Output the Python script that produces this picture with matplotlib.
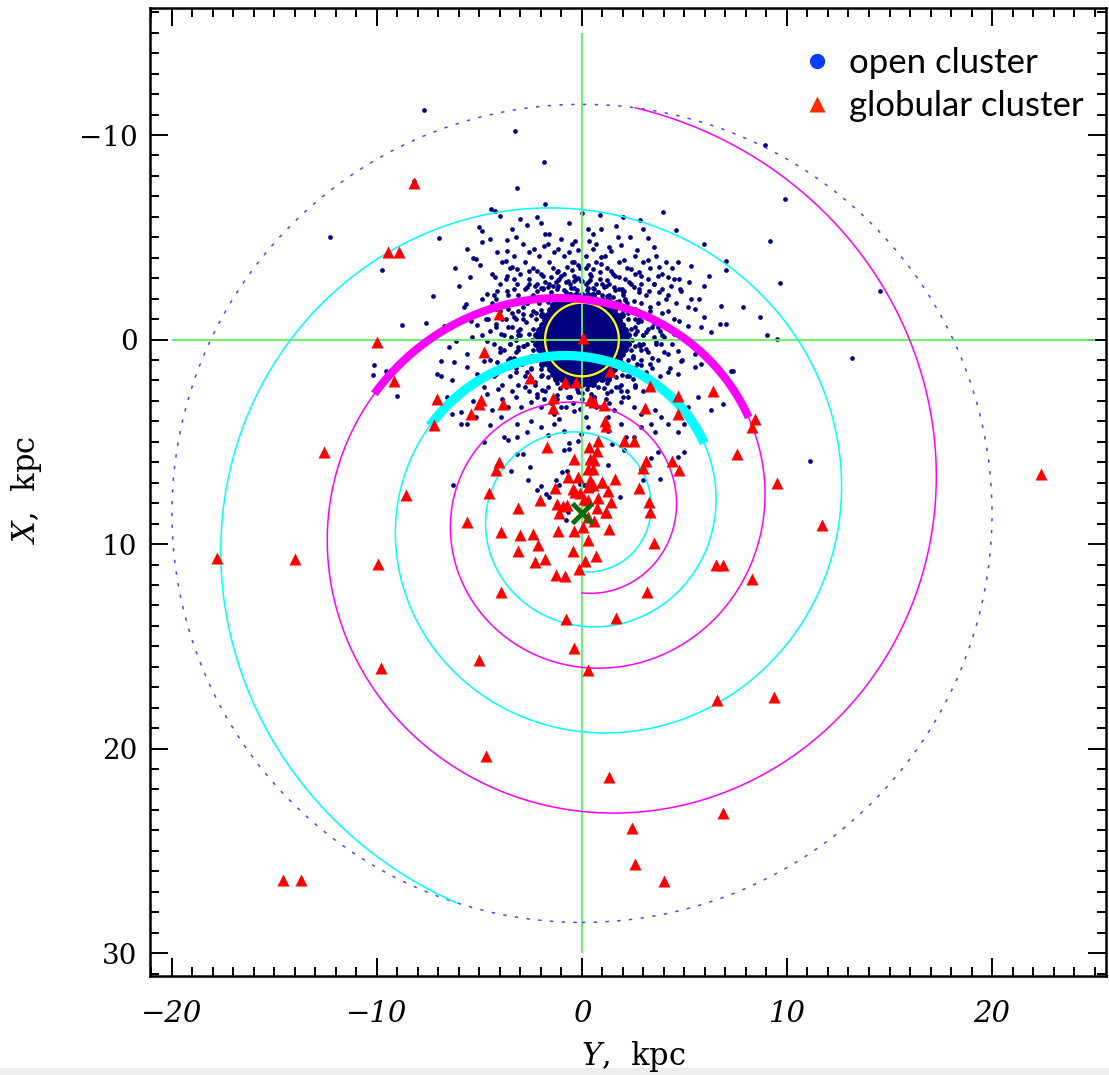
import numpy as np
import matplotlib
matplotlib.use("Agg")
import matplotlib.pyplot as plt
from matplotlib.lines import Line2D
from matplotlib.patches import Rectangle
from matplotlib.ticker import MultipleLocator

plt.rcParams["mathtext.fontset"] = "dejavuserif"

# ---------------- data ----------------
R_SUN = 8.5            # Galactic centre distance (kpc)
R_OUTER = 20.0         # dotted boundary circle radius around the GC
R_LOCAL = 1.8          # yellow circle radius around the Sun
PITCH_DEG = 6.0        # spiral pitch angle
arm_colors = ["cyan", "magenta"]
arm_r_start = [2.85, 3.89]      # spiral radius at start (direction away from Sun)
arm_thick_lw = [6.7, 5.8]
THICK_HALF_ANGLE_DEG = 60.0

x_ticks = [-20, -10, 0, 10, 20]
x_tick_labels = ["\u221220", "\u221210", "0", "10", "20"]
y_ticks = [-10, 0, 10, 20, 30]
y_tick_labels = ["\u221210", "0", "10", "20", "30"]

# dense core of open clusters (rows of X, list of Y in each row)
core_row_x = [-2.16, -1.92, -1.68, -1.44, -1.2, -0.96, -0.72, -0.48, -0.24, 0.0,
              0.24, 0.48, 0.72, 0.96, 1.2, 1.44, 1.68, 1.92, 2.16]
core_row_y = [
    [-0.56, -0.28, 0.0, 0.28, 0.56],
    [-1.26, -0.98, -0.7, -0.42, -0.14, 0.14, 0.42, 0.7, 0.98, 1.26],
    [-1.4, -1.12, -0.84, -0.56, -0.28, 0.0, 0.28, 0.56, 0.84, 1.12, 1.4],
    [-1.54, -1.26, -0.98, -0.7, -0.42, -0.14, 0.14, 0.42, 0.7, 0.98, 1.26, 1.54],
    [-1.96, -1.68, -1.4, -1.12, -0.84, -0.56, -0.28, 0.0, 0.28, 0.56, 0.84, 1.12, 1.4, 1.68, 1.96],
    [-1.82, -1.54, -1.26, -0.98, -0.7, -0.42, -0.14, 0.14, 0.42, 0.7, 0.98, 1.26, 1.54, 1.82],
    [-1.96, -1.68, -1.4, -1.12, -0.84, -0.56, -0.28, 0.0, 0.28, 0.56, 0.84, 1.12, 1.4, 1.68, 1.96],
    [-2.1, -1.82, -1.54, -1.26, -0.98, -0.7, -0.42, -0.14, 0.14, 0.42, 0.7, 0.98, 1.26, 1.54, 1.82, 2.1],
    [-2.24, -1.96, -1.68, -1.4, -1.12, -0.84, -0.56, -0.28, 0.0, 0.28, 0.56, 0.84, 1.12, 1.4, 1.68, 1.96, 2.24],
    [-2.1, -1.82, -1.54, -1.26, -0.98, -0.7, -0.42, -0.14, 0.14, 0.42, 0.7, 0.98, 1.26, 1.54, 1.82, 2.1],
    [-2.24, -1.96, -1.68, -1.4, -1.12, -0.84, -0.56, -0.28, 0.0, 0.28, 0.56, 0.84, 1.12, 1.4, 1.68, 1.96, 2.24],
    [-2.1, -1.82, -1.54, -1.26, -0.98, -0.7, -0.42, -0.14, 0.14, 0.42, 0.7, 0.98, 1.26, 1.54, 1.82, 2.1],
    [-1.96, -1.68, -1.4, -1.12, -0.84, -0.56, -0.28, 0.0, 0.28, 0.56, 0.84, 1.12, 1.4, 1.68, 1.96],
    [-1.82, -1.54, -1.26, -0.98, -0.7, -0.42, -0.14, 0.14, 0.42, 0.7, 0.98, 1.26, 1.54, 1.82],
    [-1.96, -1.68, -1.4, -1.12, -0.84, -0.56, -0.28, 0.0, 0.28, 0.56, 0.84, 1.12, 1.4, 1.68, 1.96],
    [-1.54, -1.26, -0.98, -0.7, -0.42, -0.14, 0.14, 0.42, 0.7, 0.98, 1.26, 1.54],
    [-1.4, -1.12, -0.84, -0.56, -0.28, 0.0, 0.28, 0.56, 0.84, 1.12, 1.4],
    [-1.26, -0.98, -0.7, -0.42, -0.14, 0.14, 0.42, 0.7, 0.98, 1.26],
    [-0.56, -0.28, 0.0, 0.28, 0.56],
]

# open clusters (Y, X) outside the dense core
oc_far = [
    (-7.71, -11.23), (-3.26, -10.21), (-1.84, -8.70), (-8.19, -7.77), (-12.27, -4.99),
    (-9.74, -3.41), (-10.15, 1.24), (-10.18, 1.73), (-9.58, 1.55), (-9.04, 2.77),
    (8.92, -9.53), (9.91, -6.89), (9.16, -4.82), (9.66, -2.75), (14.54, -2.38),
    (9.51, -0.03), (9.04, -0.24), (13.16, 0.9), (11.14, 5.96), (3.39, 5.8),
]
oc_upper = [
    (-3.15, -7.41), (-1.8, -6.63), (-4.45, -6.39), (-4.24, -6.27), (-4.01, -6.06), (3.94, -6.22), (2.82, -5.82),
    (-0.62, -5.7), (1.66, -5.57), (0.93, -5.41), (0.55, -5.16), (0.27, -5.38), (-1.6, -5.16), (-1.81, -5.16),
    (-2.69, -5.62), (-3.42, -5.38), (-5.02, -5.49), (-4.89, -5.3), (-6.98, -4.95), (4.59, -5.36), (3.24, -4.95),
    (2.36, -5.0), (1.77, -5.0),
    (5.93, -4.67), (0.68, -4.67), (-0.35, -4.84), (-0.48, -4.67), (-0.62, -4.27), (-1.19, -4.43), (-1.36, -4.27),
    (-1.84, -4.59), (-1.68, -4.67), (-2.33, -4.43), (-2.58, -4.27), (-2.9, -4.67), (-3.64, -4.87), (-3.64, -4.35),
    (-4.13, -4.27), (-4.86, -4.76), (-5.59, -4.43), (0.36, -4.84), (0.52, -4.43), (0.93, -4.02), (1.42, -4.32),
    (2.07, -3.89), (3.21, -3.89), (4.67, -3.78), (7.03, -3.86), (7.03, -3.4),
    (-0.37, -3.78), (-0.21, -3.62), (-0.73, -3.53), (-1.19, -3.37), (-1.52, -3.05), (-2.17, -3.37), (-2.58, -3.37),
    (-3.15, -3.45), (-3.39, -3.57), (-3.72, -3.86), (-5.18, -3.94), (-4.97, -3.66), (-5.48, -3.05), (-4.24, -3.05),
    (-3.64, -3.13), (-3.31, -2.96), (0.27, -3.62), (0.52, -3.45), (0.93, -3.7), (1.42, -3.37), (1.83, -3.05),
    (2.39, -3.45), (2.88, -3.13), (3.78, -3.53), (3.7, -3.13), (4.2, -3.05), (4.75, -2.96), (5.24, -2.8),
    (5.97, -2.64), (5.73, -1.99),
    (-0.7, -2.88), (-0.37, -2.88), (-0.05, -2.88), (0.27, -2.8), (0.68, -2.72), (1.06, -2.56), (1.55, -2.56),
    (2.07, -2.39), (2.56, -2.56), (2.88, -2.72), (3.29, -2.39), (3.78, -2.31), (4.35, -2.64), (4.84, -2.39),
    (5.33, -1.99), (-1.27, -2.8), (-1.68, -2.56), (-2.17, -2.39), (-2.66, -2.56), (-3.15, -2.72), (-3.64, -2.39),
    (-4.13, -2.39), (-4.61, -2.23), (-4.86, -1.99), (-4.21, -1.99), (-5.67, -1.74), (-7.27, -2.12), (6.79, -1.66),
    (7.85, -1.61),
    (-5.75, -1.58), (-5.43, -0.93), (-5.1, -0.73), (-4.69, -1.01), (-4.21, -0.77), (-6.73, -0.68), (-7.63, -0.81),
    (-8.77, -0.73), (5.16, -1.58), (5.49, -1.5), (5.97, -1.09), (6.71, -0.77), (7.03, -0.77), (8.67, -1.09),
    (5.16, -0.68), (4.75, -0.93),
    (-6.16, 0.05), (-5.35, -0.11), (-4.61, 0.05), (-3.96, -0.28), (-3.47, -0.11), (4.02, -0.11), (4.51, -0.28),
    (3.53, -0.11), (5.08, -0.03), (5.81, -0.6), (6.3, -0.36), (3.7, -0.6),
    (-6.49, 0.37), (-5.59, 0.7), (-4.78, 1.03), (-4.13, 1.11), (-6.24, 1.11), (-6.89, 1.03), (4.67, 0.54),
    (5.49, 0.7), (4.84, 1.03), (5.81, 1.22), (7.28, 1.56), (3.86, 0.21), (4.2, 0.7),
    (-7.06, 1.68), (-5.59, 1.35), (-5.1, 1.68), (-4.21, 1.68), (4.2, 1.6), (4.67, 1.68), (5.49, 1.35),
    (-3.0, -5.9), (-2.2, -6.0), (0.9, -6.1), (1.3, -4.5), (-1.0, -4.9), (2.7, -4.4), (3.5, -4.5), (-3.2, -5.0),
    (-4.5, -4.9), (-2.0, -5.7), (0.0, -6.2), (2.0, -6.0), (-0.2, -4.4), (1.9, -4.6), (3.0, -5.4), (-5.3, -4.0),
    (-6.2, -3.5), (5.3, -3.6), (6.2, -3.1), (-6.0, -2.6),
]
oc_middle = [
    (-6.89, 1.76), (-6.32, 2.0), (-5.75, 2.49), (-6.57, 2.82), (-6.32, 3.63), (-5.91, 3.55), (-5.59, 4.12),
    (-5.92, 4.12), (-5.18, 3.8), (-4.61, 2.66), (-4.12, 2.41), (-3.88, 2.9), (-4.37, 3.47), (-3.96, 3.8),
    (-3.63, 3.31), (-3.23, 2.82), (-2.98, 3.31), (-2.49, 3.06), (-2.17, 2.66), (-1.84, 2.9), (-2.0, 3.31),
    (-3.15, 4.12), (-2.49, 3.96), (-1.35, 3.63), (-1.03, 3.31), (-0.7, 2.82), (-0.21, 2.57), (0.44, 2.66),
    (0.6, 2.98), (0.93, 3.31), (1.25, 3.8), (1.58, 3.47), (1.9, 3.06), (2.23, 2.82), (2.56, 3.31), (2.88, 3.63),
    (3.54, 3.47), (3.86, 3.8), (3.37, 4.12), (2.88, 4.28), (4.19, 4.12), (4.68, 3.63), (5.16, 3.31), (5.65, 2.82),
    (6.3, 3.47), (6.87, 3.14), (7.36, 1.52), (1.9, 4.12), (1.25, 4.45), (0.28, 4.28), (-0.05, 4.61),
    (-0.86, 4.45), (-1.35, 4.12), (-1.68, 4.69), (-2.0, 4.28), (-3.8, 4.77), (-3.15, 4.77), (2.15, 4.77),
    (2.56, 4.77), (3.54, 4.53), (5.0, 4.12), (4.68, 4.53),
    (-4.8, 2.3), (-5.3, 3.0), (-4.5, 4.2), (-2.7, 4.5), (-1.1, 3.9), (-0.4, 3.5), (0.2, 3.8),
]
oc_lower = [
    (-4.77, 5.01), (-3.63, 4.9), (-3.18, 5.62), (-2.9, 5.62), (-3.47, 6.43), (-2.54, 6.24), (-2.62, 6.86),
    (-6.27, 7.1), (-2.17, 7.34), (-2.0, 7.18), (-1.76, 7.54), (-1.6, 7.7), (-1.27, 6.89), (-1.11, 7.13),
    (-0.95, 6.48), (-0.73, 6.43), (-0.7, 6.72), (-0.08, 7.05), (0.12, 7.13), (0.52, 7.3), (1.26, 6.15),
    (1.86, 7.7), (2.97, 6.86), (3.81, 6.81), (2.07, 5.39), (2.59, 5.06), (1.47, 5.1), (-0.65, 5.06),
    (-0.9, 5.39), (-0.62, 5.34), (-0.21, 4.98), (-0.78, 8.81), (-0.7, 8.44), (4.68, 5.75), (5.0, 5.5),
    (2.88, 6.32), (3.7, 5.5),
]
oc_ring = [
    (-3.0, -0.2), (-3.1, 0.5), (-2.9, 1.1), (-3.2, -1.0), (-2.9, -1.6), (-2.5, -2.1), (-2.0, -2.5),
    (-1.4, -2.6), (-0.8, -2.8), (-0.2, -3.0), (0.4, -2.9), (1.0, -2.7), (1.6, -2.4), (2.1, -2.0), (2.6, -1.5),
    (2.9, -0.9), (3.0, -0.2), (2.9, 0.5), (2.7, 1.2), (2.3, 1.8), (1.8, 2.3), (1.2, 2.6), (0.6, 2.8),
    (0.0, 2.9), (-0.6, 2.8), (-1.2, 2.7), (-1.8, 2.5), (-2.3, 2.1), (-2.7, 1.6),
    (-3.5, 0.2), (-3.6, -0.6), (-3.4, -1.3), (-3.1, -2.2), (-2.6, -2.7), (-1.9, -3.1), (-1.2, -3.3),
    (-0.5, -3.4), (0.2, -3.5), (0.9, -3.3), (1.6, -3.1), (2.3, -2.8), (2.8, -2.3), (3.3, -1.6), (3.5, -0.8),
    (3.6, 0.1), (3.4, 0.9), (3.1, 1.6), (2.6, 2.3), (2.0, 2.8), (1.3, 3.1), (0.7, 3.3), (-0.1, 3.4),
    (-0.8, 3.3), (-1.5, 3.1), (-2.2, 2.8), (-2.8, 2.3), (-3.2, 1.6), (-3.5, 0.9),
    (-2.9, 0.3), (-3.2, 0.0), (-3.0, -0.5), (-2.5, -1.2), (-3.3, -1.1),
    (-3.6, -1.5), (-2.7, -1.8), (-2.1, -1.8), (-1.5, -2.3), (-0.9, -2.4), (-0.4, -2.5), (0.3, -2.5), (0.8, -2.3),
    (1.3, -2.2), (1.8, -1.9), (2.3, -1.5), (2.6, -1.0), (2.7, -0.4), (2.6, 0.3), (2.5, 0.9), (2.1, 1.4),
    (3.0, 0.2), (3.2, -0.5), (3.1, -1.2), (2.0, -2.3), (-1.0, -3.1), (-1.8, -2.8), (-2.3, -2.6), (-3.9, -1.0),
    (-3.8, 0.5), (-3.3, 0.9), (-2.5, 1.9), (1.4, 2.5),
    (3.3, 1.2), (3.8, -0.4), (3.9, -1.3), (4.1, -2.0), (3.5, -2.7), (2.8, -3.3), (-4.2, -1.5), (-4.5, -0.4),
    (-4.0, 0.4), (-3.7, 1.2),
]
oc_edge = [
    (0.0, 2.6), (0.59, 2.79), (1.06, 2.38), (1.68, 2.31), (1.93, 1.74), (2.47, 1.43), (2.47, 0.8),
    (2.83, 0.3), (2.59, -0.27), (2.71, -0.88), (2.25, -1.3), (2.12, -1.91), (1.53, -2.1), (1.16, -2.6),
    (0.54, -2.54), (0.0, -2.85), (-0.54, -2.54), (-1.16, -2.6), (-1.53, -2.1), (-2.12, -1.91), (-2.25, -1.3),
    (-2.71, -0.88), (-2.59, -0.27), (-2.83, 0.3), (-2.47, 0.8), (-2.47, 1.43), (-1.93, 1.74), (-1.68, 2.31),
    (-1.06, 2.38), (-0.59, 2.79),
    (0.26, 2.44), (0.76, 2.33), (1.23, 2.12), (1.64, 1.82), (1.98, 1.44), (2.24, 1.0), (2.4, 0.51),
    (2.45, 0.0), (2.4, -0.51), (2.24, -1.0), (1.98, -1.44), (1.64, -1.82), (1.23, -2.12), (0.76, -2.33),
    (0.26, -2.44), (-0.26, -2.44), (-0.76, -2.33), (-1.23, -2.12), (-1.64, -1.82), (-1.98, -1.44),
    (-2.24, -1.0), (-2.4, -0.51), (-2.45, 0.0), (-2.4, 0.51), (-2.24, 1.0), (-1.98, 1.44), (-1.64, 1.82),
    (-1.23, 2.12), (-0.76, 2.33), (-0.26, 2.44),
    (0.38, 3.13), (1.18, 2.92), (1.9, 2.52), (2.48, 1.94), (2.9, 1.23), (3.12, 0.44), (3.13, -0.38),
    (2.92, -1.18), (2.52, -1.9), (1.94, -2.48), (1.23, -2.9), (0.44, -3.12), (-0.38, -3.13), (-1.18, -2.92),
    (-1.9, -2.52), (-2.48, -1.94), (-2.9, -1.23), (-3.12, -0.44), (-3.13, 0.38), (-2.92, 1.18), (-2.52, 1.9),
    (-1.94, 2.48), (-1.23, 2.9), (-0.44, 3.12),
]
oc_dense = [
    (-3.3, -4.1), (-2.1, -4.1), (-0.9, -4.1), (0.2, -4.1), (1.1, -4.1), (2.6, -4.1), (3.6, -4.1),
    (-3.9, -3.8), (-2.8, -3.8), (-1.6, -3.8), (-0.5, -3.8), (0.7, -3.8), (1.8, -3.8), (3.0, -3.8), (4.1, -3.8),
    (-3.5, -3.5), (-2.4, -3.5), (-1.4, -3.5), (-0.1, -3.5), (1.2, -3.5), (2.2, -3.5), (3.3, -3.5), (4.4, -3.5),
    (-4.4, -3.2), (-3.0, -3.2), (-2.0, -3.2), (-0.9, -3.2), (0.4, -3.2), (1.5, -3.2), (2.6, -3.2), (3.9, -3.2),
    (-3.7, -2.95), (-2.6, -2.95), (-1.1, -2.95), (-0.3, -2.95), (0.9, -2.95), (2.1, -2.95), (3.2, -2.95),
    (4.5, -2.95), (-4.0, -2.7), (-2.2, -2.7), (-1.6, -2.7), (-0.6, -2.7), (0.2, -2.7), (1.3, -2.7), (2.4, -2.7),
    (3.5, -2.7), (-3.3, -2.45), (-2.8, -2.45), (-1.9, -2.45), (-1.2, -2.45), (0.6, -2.45), (1.8, -2.45),
    (2.8, -2.45), (3.9, -2.45), (4.8, -2.45), (-4.3, -2.2), (-3.6, -2.2), (-2.4, -2.2), (-1.5, -2.2),
    (1.0, -2.2), (2.0, -2.2), (3.1, -2.2), (4.2, -2.2),
    (-4.4, -1.8), (-3.5, -1.8), (-2.7, -1.8), (2.2, -1.8), (2.9, -1.8), (3.7, -1.8), (4.6, -1.8),
    (-4.0, -1.4), (-3.1, -1.4), (-2.4, -1.4), (2.5, -1.4), (3.3, -1.4), (4.2, -1.4),
    (-4.6, -1.0), (-3.7, -1.0), (-2.9, -1.0), (2.8, -1.0), (3.6, -1.0), (4.5, -1.0),
    (-4.2, -0.6), (-3.4, -0.6), (2.6, -0.6), (3.4, -0.6), (4.1, -0.6),
    (-4.9, -0.2), (-3.8, -0.2), (-3.1, -0.2), (3.0, -0.2), (3.9, -0.2), (4.7, -0.2),
    (-4.3, 0.2), (-3.5, 0.2), (-2.7, 0.2), (2.8, 0.2), (3.6, 0.2), (4.4, 0.2),
    (-4.0, 0.6), (-3.2, 0.6), (3.2, 0.6), (4.0, 0.6),
    (-4.5, 1.0), (-3.6, 1.0), (-2.9, 1.0), (2.9, 1.0), (3.7, 1.0), (4.9, 1.0),
    (-3.9, 1.4), (-3.2, 1.4), (-2.5, 1.4), (2.6, 1.4), (3.4, 1.4), (4.3, 1.4),
    (-4.3, 1.8), (-3.5, 1.8), (-2.8, 1.8), (-2.0, 1.8), (2.2, 1.8), (3.0, 1.8),
    (3.8, 1.8), (-3.9, 2.2), (-3.1, 2.2), (-2.3, 2.2), (1.9, 2.2), (2.6, 2.2), (3.4, 2.2),
    (-3.4, 2.5), (-2.6, 2.5), (2.2, 2.5), (3.0, 2.5),
]

# globular clusters (Y, X)
gc = [
    (-8.20, -7.64), (-9.45, -4.27), (-8.93, -4.27), (-9.99, 0.10), (-4.05, -1.24), (0.06, -0.08),
    (-4.78, 0.62), (-9.17, 2.04), (-7.05, 2.90), (-4.94, 2.98), (-5.02, 3.14), (-5.43, 3.63), (-3.86, 3.16),
    (-2.54, 1.89), (-0.82, 2.10), (-0.29, 2.10), (-1.39, 2.86), (-1.39, 3.34), (-7.22, 4.16), (-12.6, 5.51),
    (-1.72, 5.27), (-4.07, 6.00), (-4.17, 6.40), (-0.40, 5.85), (-0.70, 6.70), (-0.21, 6.70), (-8.57, 7.62),
    (-4.53, 7.52), (-2.07, 7.83), (-1.32, 7.24), (-3.10, 8.25), (-1.20, 8.05), (-0.94, 8.13), (-1.12, 8.49),
    (-0.73, 8.11), (-5.63, 8.93), (-3.96, 9.42), (-3.02, 9.55), (-2.41, 9.52), (-1.16, 9.36), (-0.38, 9.36),
    (-2.15, 10.07), (-3.13, 10.33), (-0.45, 10.36), (-2.27, 10.90), (-1.81, 10.74), (0.13, 10.82),
    (-0.16, 11.20), (-1.27, 11.51), (-0.83, 11.58), (-3.94, 12.35), (-9.94, 10.96), (-14.01, 10.72),
    (-17.81, 10.67), (-0.77, 13.65), (-0.41, 15.09), (-5.00, 15.66), (-9.82, 16.05), (0.28, 16.18),
    (-4.69, 20.38), (-14.58, 26.44), (-13.69, 26.44), (6.60, 17.64), (9.37, 17.48), (1.31, 21.39),
    (2.43, 23.87), (6.90, 23.15), (2.57, 25.63), (4.00, 26.48), (6.38, 2.51), (8.45, 3.88), (8.30, 4.29),
    (4.70, 2.74), (4.70, 3.63), (3.09, 3.34), (1.12, 3.96), (1.15, 4.23), (2.05, 4.97), (2.56, 4.95),
    (7.55, 5.59), (9.49, 7.02), (4.38, 5.95), (4.72, 6.37), (3.10, 5.95), (2.97, 6.27), (1.60, 6.80),
    (0.97, 6.97), (2.80, 7.25), (3.29, 7.93), (3.30, 8.41), (1.40, 7.93), (1.19, 8.42), (1.32, 9.25),
    (3.51, 9.94), (0.31, 9.82), (0.68, 10.57), (11.73, 9.09), (6.55, 11.03), (6.87, 11.01), (8.28, 11.70),
    (3.15, 12.35), (1.66, 13.60), (22.40, 6.56), (0.39, 2.98), (0.58, 3.05), (1.09, 3.18), (0.77, 4.97),
    (0.72, 5.43), (0.36, 5.26), (0.41, 5.83), (0.57, 5.91), (0.28, 6.32), (0.52, 6.32), (0.41, 6.89),
    (0.52, 7.09), (0.28, 7.22), (0.96, 6.97), (1.28, 7.42), (-0.45, 7.30), (-0.34, 7.46), (-0.10, 7.51),
    (0.11, 7.79), (0.28, 7.87), (0.77, 7.74), (0.72, 8.23), (1.17, 8.44), (0.28, 8.69), (0.60, 8.85),
    (0.06, 9.17), (1.37, 1.52), (3.30, 2.25),
]

# ---------------- figure ----------------
W, H = 1109, 1075
fig = plt.figure(figsize=(W / 100, H / 100), dpi=100)
fig.patches.append(Rectangle((0, 0), 1, 7 / H, transform=fig.transFigure,
                             facecolor="#eeeeee", edgecolor="none", zorder=-5))
ax = fig.add_axes([150 / W, (H - 976) / H, 956 / W, 968 / H])
ax.set_xlim(-21.07, 25.56)
ax.set_ylim(31.12, -16.21)

# open clusters
core_y = np.concatenate([np.array(row, float) for row in core_row_y])
core_x = np.concatenate([np.full(len(row), xv) for row, xv in zip(core_row_y, core_row_x)])
ax.plot(core_y, core_x, ls="none", marker="o", ms=5.0, mfc="#000080", mec="none", zorder=1)
oc = np.array(oc_far + oc_upper + oc_middle + oc_lower + oc_ring + oc_edge + oc_dense)
ax.plot(oc[:, 0], oc[:, 1], ls="none", marker="o", ms=3.4, mfc="#000080", mec="none", zorder=1)

# green reference lines
ax.hlines(0, -20, 25, color="#5cf25c", lw=1.3, zorder=2)
ax.vlines(0, -15, 30, color="#5cf25c", lw=1.3, zorder=2)

# dotted outer circle around GC
phi = np.linspace(0, 2 * np.pi, 1500)
ax.plot(R_OUTER * np.sin(phi), R_SUN + R_OUTER * np.cos(phi), color="#4646ff",
        lw=1.1, ls=(0, (2.2, 5.5)), zorder=2.4)

# spiral arms
k = np.tan(np.radians(PITCH_DEG))
half = np.radians(THICK_HALF_ANGLE_DEG)
for r0, col, tlw in zip(arm_r_start, arm_colors, arm_thick_lw):
    t_end = np.log(R_OUTER / r0) / k
    t = np.linspace(0, t_end, 4000)
    r = r0 * np.exp(k * t)
    ax.plot(r * np.sin(t), R_SUN + r * np.cos(t), color=col, lw=1.1, zorder=2.5)
    ts = np.linspace(3 * np.pi - half, 3 * np.pi + half, 600)
    rs = r0 * np.exp(k * ts)
    ax.plot(rs * np.sin(ts), R_SUN + rs * np.cos(ts), color=col, lw=tlw,
            solid_capstyle="butt", zorder=4)

# yellow local circle around the Sun
ax.plot(R_LOCAL * np.sin(phi), R_LOCAL * np.cos(phi), color="#ffff00", lw=1.6, zorder=3.5)

# globular clusters
g = np.array(gc)
ax.plot(g[:, 0], g[:, 1], ls="none", marker="^", ms=8.4, mfc="#ff0000", mec="none", zorder=5)

# Galactic centre
ax.plot([0], [R_SUN], ls="none", marker="x", ms=15, mew=3.5, color="#0b6b0b", zorder=6)

# ---------------- axes styling ----------------
for s in ax.spines.values():
    s.set_linewidth(1.8)
ax.xaxis.set_minor_locator(MultipleLocator(1))
ax.yaxis.set_minor_locator(MultipleLocator(1))
ax.tick_params(which="both", direction="in", top=True, right=True, width=1.4, color="black")
ax.tick_params(which="major", length=13)
ax.tick_params(which="minor", length=6.5)
ax.tick_params(axis="x", which="major", pad=17)
ax.tick_params(axis="y", which="major", pad=9)
ax.set_xticks(x_ticks)
ax.set_xticklabels(x_tick_labels, family="DejaVu Serif", style="italic", fontsize=21)
ax.set_yticks(y_ticks)
ax.set_yticklabels(y_tick_labels, family="DejaVu Serif", fontsize=20)

ax.set_xlabel(r"$Y$,  kpc", family="DejaVu Serif", fontsize=22)
ax.xaxis.set_label_coords((633 - 150) / 956, (976 - 1056) / 968)
ax.xaxis.label.set_va("center")
ax.set_ylabel(r"$X$,  kpc", family="DejaVu Serif", fontsize=22)
ax.yaxis.set_label_coords((27 - 150) / 956, (976 - 490) / 968)
ax.yaxis.label.set_va("center")

# legend
handles = [
    Line2D([], [], ls="none", marker="o", ms=11, mfc="#0a3cff", mec="none"),
    Line2D([], [], ls="none", marker="^", ms=11, mfc="#ff2a00", mec="none"),
]
ax.legend(handles, ["open cluster", "globular cluster"], loc="upper left",
          bbox_to_anchor=(800 / W, 1 - 47 / H), bbox_transform=fig.transFigure,
          frameon=False, prop={"family": "Lato", "size": 25}, handlelength=1.0,
          handletextpad=0.40, labelspacing=0.32, borderpad=0, borderaxespad=0)

fig.savefig("out.png", dpi=100)
